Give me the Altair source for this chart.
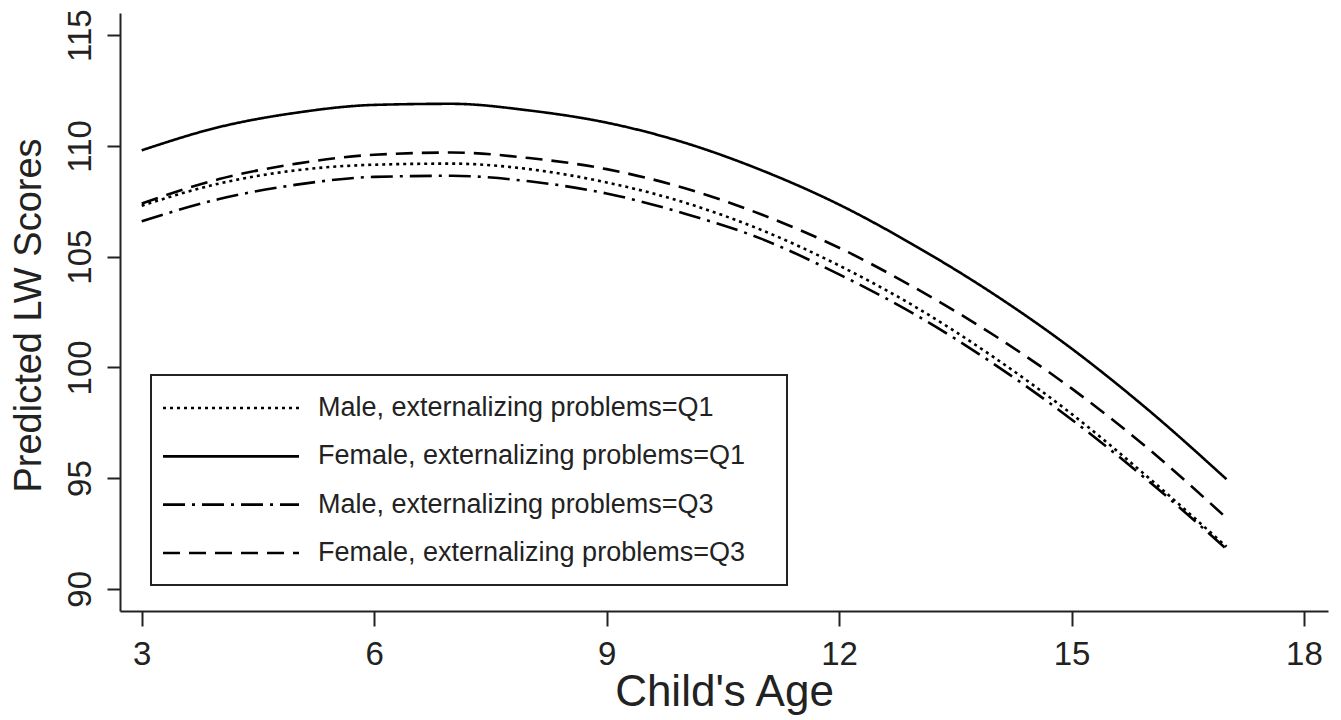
import altair as alt
import pandas as pd

# ---- data ----
series = [
    "Male, externalizing problems=Q1",
    "Female, externalizing problems=Q1",
    "Male, externalizing problems=Q3",
    "Female, externalizing problems=Q3",
]
ages = [3, 4, 5, 6, 7, 8, 9, 10, 11, 12, 13, 14, 15, 16, 17]
male_q1 = [107.3, 108.3, 108.9, 109.15, 109.2, 108.95, 108.35, 107.45, 106.2, 104.6, 102.7, 100.45, 97.9, 95.0, 91.9]
female_q1 = [109.8, 110.85, 111.5, 111.85, 111.9, 111.6, 111.05, 110.15, 108.9, 107.35, 105.45, 103.3, 100.85, 98.05, 94.95]
male_q3 = [106.6, 107.6, 108.25, 108.6, 108.65, 108.4, 107.85, 106.95, 105.8, 104.2, 102.35, 100.15, 97.65, 94.85, 91.8]
female_q3 = [107.4, 108.5, 109.2, 109.6, 109.7, 109.45, 108.95, 108.1, 106.9, 105.4, 103.55, 101.45, 99.05, 96.3, 93.2]
x_ticks = [3, 6, 9, 12, 15, 18]
y_ticks = [90, 95, 100, 105, 110, 115]

values = [male_q1, female_q1, male_q3, female_q3]
rows = []
for name, vals in zip(series, values):
    for a, v in zip(ages, vals):
        rows.append({"age": a, "score": v, "series": name})
df = pd.DataFrame(rows)
legend_df = pd.DataFrame({"series": series})

dashes = [[3, 4], [1, 0], [22, 7, 3, 7], [17, 9]]
dash_scale = alt.Scale(domain=series, range=dashes)
INK = "#222222"
FONT = "Liberation Sans"

lines = alt.Chart(df).mark_line(
    interpolate="monotone", strokeWidth=2.6, color="black", strokeCap="butt"
).encode(
    x=alt.X(
        "age:Q",
        scale=alt.Scale(domain=[2.72, 18.31], nice=False, zero=False),
        axis=alt.Axis(
            values=x_ticks, title="Child's Age", grid=False,
            tickSize=15, tickWidth=2, domainWidth=2,
            domainColor=INK, tickColor=INK,
            labelFontSize=33, labelFont=FONT, labelColor=INK,
            labelBaseline="alphabetic", labelPadding=38,
            labelFlush=False, labelOverlap=False,
            titleFontSize=44, titleFont=FONT, titleColor=INK,
            titleFontWeight="normal", titleBaseline="alphabetic", titleY=94,
        ),
    ),
    y=alt.Y(
        "score:Q",
        scale=alt.Scale(domain=[89, 116], nice=False, zero=False),
        axis=alt.Axis(
            values=y_ticks, title="Predicted LW Scores", grid=False,
            tickSize=13, tickWidth=2, domainWidth=2,
            domainColor=INK, tickColor=INK,
            labelFontSize=33, labelFont=FONT, labelColor=INK,
            labelAngle=270, labelAlign="center", labelBaseline="alphabetic",
            labelPadding=17, labelFlush=False, labelOverlap=False,
            titleFontSize=38, titleFont=FONT, titleColor=INK,
            titleFontWeight="normal", titleAngle=270, titleAlign="center",
            titleBaseline="alphabetic", titleX=-80, titleY=302,
        ),
    ),
    strokeDash=alt.StrokeDash("series:N", scale=dash_scale, legend=None),
)

box = alt.Chart(pd.DataFrame({"k": [0]})).mark_rect(
    fill="white", stroke=INK, strokeWidth=2
).encode(
    x=alt.value(31), x2=alt.value(667), y=alt.value(362), y2=alt.value(572)
)

row_scale = alt.Scale(domain=series, range=[395, 540], type="point", padding=0)

leg_lines = alt.Chart(legend_df).mark_rule(
    strokeWidth=2.6, color="black", strokeCap="butt"
).encode(
    x=alt.value(43), x2=alt.value(179),
    y=alt.Y("series:N", scale=row_scale, axis=None),
    strokeDash=alt.StrokeDash("series:N", scale=dash_scale, legend=None),
)

leg_text = alt.Chart(legend_df).mark_text(
    align="left", baseline="middle", fontSize=27, font=FONT, color=INK
).encode(
    x=alt.value(198),
    y=alt.Y("series:N", scale=row_scale, axis=None),
    text="series:N",
)

chart = alt.layer(lines, box, leg_lines, leg_text).resolve_scale(
    y="independent"
).properties(
    width=1208, height=598, autosize="none",
    padding={"left": 120, "top": 13, "right": 13, "bottom": 109},
    background="white",
).configure_view(stroke=None)

chart.save("out.html", embed_options={"renderer": "svg", "actions": False})
